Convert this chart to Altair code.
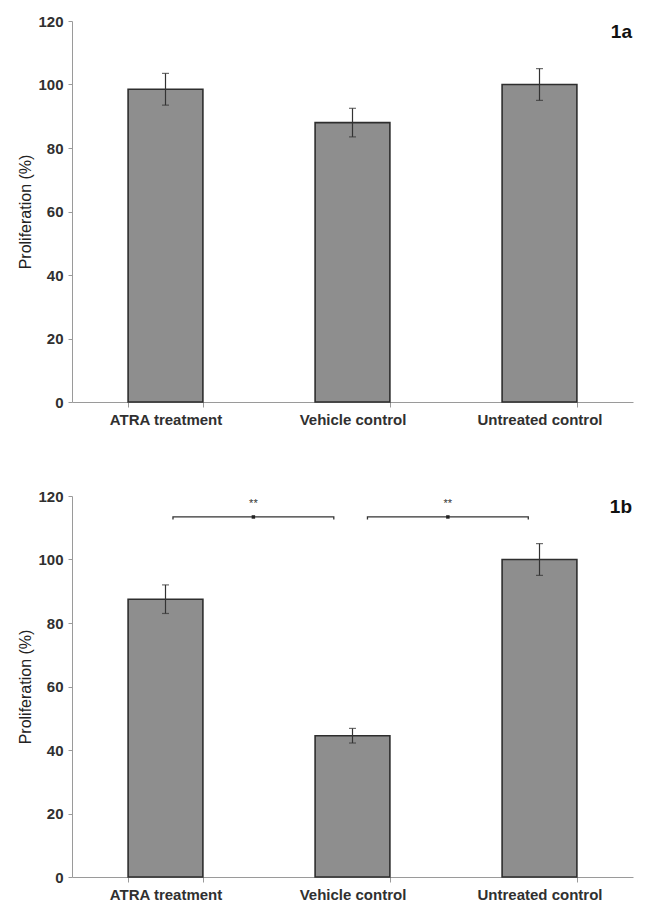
import altair as alt
import pandas as pd

categories = ["ATRA treatment", "Vehicle control", "Untreated control"]

a_values = [98.5, 88.0, 100.0]
a_errors = [5.0, 4.5, 5.0]

b_values = [87.5, 44.5, 100.0]
b_errors = [4.5, 2.3, 5.0]

# significance brackets for panel 1b (x in category units: 0..3)
br_start = [0.54, 1.58]
br_end = [1.40, 2.44]
br_mid = [0.97, 2.01]
br_level = [113.4, 113.4]
br_label = ["**", "**"]

y_ticks = [0, 20, 40, 60, 80, 100, 120]

FONT = "Liberation Sans"
W, H = 561, 381
TXT = "#303030"


def panel(values, errors, tag, brackets=False):
    df = pd.DataFrame({
        "cat": categories,
        "v": values,
        "lo": [v - e for v, e in zip(values, errors)],
        "hi": [v + e for v, e in zip(values, errors)],
    })
    x = alt.X(
        "cat:N", sort=categories,
        scale=alt.Scale(paddingInner=0.6, paddingOuter=0.3),
        axis=alt.Axis(title=None, labelAngle=0, tickBand="extent", tickSize=5,
                      labelPadding=5, domainColor="#9a9a9a", tickColor="#9a9a9a",
                      labelFont=FONT, labelFontSize=15, labelFontWeight="bold", labelColor=TXT),
    )
    yscale = alt.Scale(domain=[0, 120], nice=False)
    yaxis = alt.Axis(values=y_ticks, grid=False, title="Proliferation (%)", tickSize=4,
                     labelPadding=5, titlePadding=4, domainColor="#9a9a9a", tickColor="#9a9a9a",
                     labelFont=FONT, labelFontSize=15, labelFontWeight="bold", labelColor=TXT,
                     titleFont=FONT, titleFontSize=16, titleFontWeight="normal", titleColor="#222")
    base = alt.Chart(df)
    bars = base.mark_bar(color="#8e8e8e", stroke="#2e2e2e", strokeWidth=1.6).encode(
        x=x, y=alt.Y("v:Q", scale=yscale, axis=yaxis))
    err = base.mark_rule(color="#333", strokeWidth=1.2).encode(
        x=alt.X("cat:N", sort=categories), y=alt.Y("lo:Q"), y2="hi:Q")
    cap_hi = base.mark_tick(color="#333", size=7, thickness=1.2).encode(
        x=alt.X("cat:N", sort=categories), y=alt.Y("hi:Q"))
    cap_lo = base.mark_tick(color="#333", size=7, thickness=1.2).encode(
        x=alt.X("cat:N", sort=categories), y=alt.Y("lo:Q"))
    tag_text = alt.Chart(pd.DataFrame({"t": [tag]})).mark_text(
        font=FONT, fontSize=19, fontWeight="bold", align="right", baseline="middle", color="#111"
    ).encode(text="t:N", x=alt.value(560), y=alt.value(11))

    layers = [bars, err, cap_hi, cap_lo, tag_text]
    chart = alt.layer(*layers)

    if brackets:
        rows = []
        for i in range(len(br_start)):
            rows += [
                {"g": i, "o": 0, "x": br_start[i], "y": br_level[i] - 0.8},
                {"g": i, "o": 1, "x": br_start[i], "y": br_level[i]},
                {"g": i, "o": 2, "x": br_end[i], "y": br_level[i]},
                {"g": i, "o": 3, "x": br_end[i], "y": br_level[i] - 0.8},
            ]
        bdf = pd.DataFrame(rows)
        qx = alt.Scale(domain=[0, 3], nice=False, zero=False)
        blines = alt.Chart(bdf).mark_line(color="#333", strokeWidth=1.3).encode(
            x=alt.X("x:Q", scale=qx, axis=None),
            y=alt.Y("y:Q", scale=yscale),
            detail="g:N", order="o:O")
        sdf = pd.DataFrame({"x": br_mid, "y": br_level, "s": br_label})
        dots = alt.Chart(sdf).mark_square(color="#222", size=12, opacity=1).encode(
            x=alt.X("x:Q", scale=qx, axis=None), y=alt.Y("y:Q", scale=yscale))
        stars = alt.Chart(sdf).mark_text(font=FONT, fontSize=11, color="#333", dy=-13).encode(
            x=alt.X("x:Q", scale=qx, axis=None), y=alt.Y("y:Q", scale=yscale), text="s:N")
        bl = alt.layer(blines, dots, stars)
        chart = alt.layer(chart, bl).resolve_scale(x="independent")

    return chart.properties(width=W, height=H)


top = panel(a_values, a_errors, "1a")
bottom = panel(b_values, b_errors, "1b", brackets=True)

chart = alt.vconcat(top, bottom, spacing=62).properties(
    padding={"left": 9, "top": 6, "right": 5, "bottom": 0},
    background="white",
).configure_view(strokeWidth=0, stroke="transparent")

chart.save("out.html", embed_options={"renderer": "svg", "actions": False})
